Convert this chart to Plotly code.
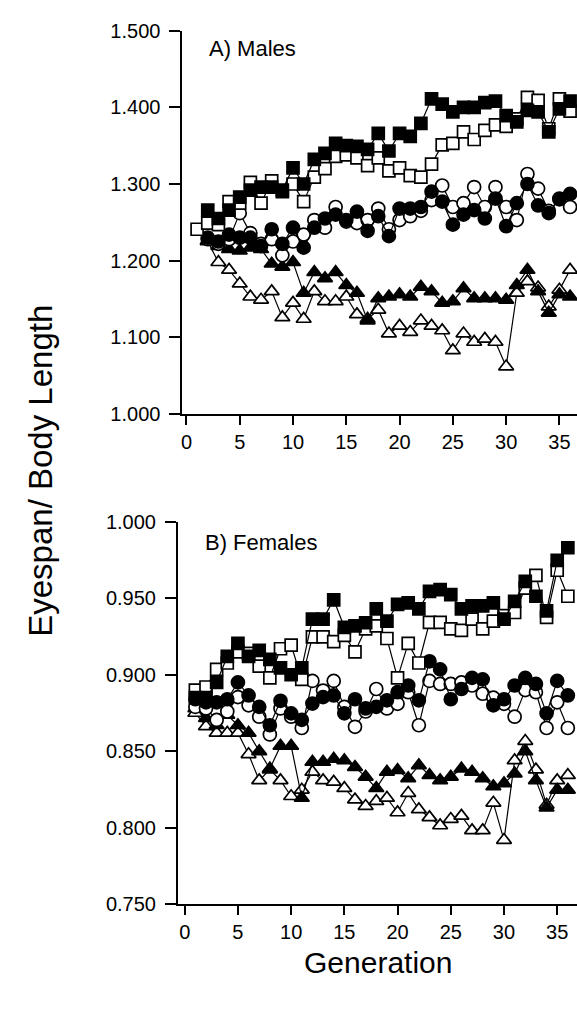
import plotly.graph_objects as go

# ---------------- data ----------------
gens_1_36 = list(range(1, 37))
gens_2_36 = list(range(2, 37))

# A) Males
top_fs = [1.266,1.255,1.266,1.283,1.292,1.296,1.296,1.292,1.321,1.300,1.332,1.340,1.353,1.350,1.349,1.345,1.366,1.343,1.366,1.362,1.379,1.411,1.404,1.394,1.400,1.400,1.406,1.408,1.389,1.381,1.396,1.394,1.368,1.398,1.408]
top_os = [1.241,1.249,1.247,1.277,1.275,1.302,1.275,1.304,1.290,1.300,1.277,1.309,1.320,1.336,1.338,1.334,1.324,1.334,1.317,1.321,1.311,1.309,1.326,1.351,1.353,1.368,1.358,1.370,1.377,1.375,1.385,1.413,1.409,1.372,1.411,1.395]
top_fc = [1.230,1.225,1.234,1.230,1.230,1.219,1.241,1.222,1.243,1.217,1.243,1.255,1.260,1.253,1.264,1.239,1.258,1.232,1.268,1.268,1.270,1.290,1.277,1.247,1.260,1.266,1.255,1.281,1.245,1.275,1.300,1.272,1.262,1.281,1.287]
top_oc = [1.228,1.222,1.228,1.262,1.236,1.222,1.228,1.207,1.225,1.234,1.253,1.243,1.270,1.251,1.249,1.253,1.268,1.241,1.253,1.258,1.265,1.279,1.298,1.270,1.275,1.296,1.270,1.296,1.270,1.253,1.313,1.294,1.265,1.280,1.270]
top_ft = [1.226,1.219,1.215,1.213,1.217,1.215,1.196,1.192,1.198,1.158,1.185,1.177,1.185,1.168,1.158,1.122,1.151,1.153,1.156,1.153,1.166,1.160,1.145,1.147,1.164,1.151,1.151,1.151,1.149,1.168,1.188,1.160,1.132,1.156,1.153]
top_ot = [1.225,1.198,1.188,1.170,1.153,1.149,1.160,1.126,1.145,1.124,1.160,1.147,1.147,1.153,1.130,1.124,1.136,1.105,1.115,1.107,1.122,1.115,1.109,1.083,1.105,1.094,1.098,1.094,1.062,1.158,1.173,1.165,1.140,1.162,1.188]

# B) Females
bot_fs = [0.885,0.885,0.895,0.912,0.9205,0.912,0.916,0.910,0.9045,0.900,0.9045,0.9364,0.9364,0.949,0.931,0.932,0.934,0.943,0.935,0.946,0.947,0.943,0.9545,0.9556,0.9524,0.943,0.945,0.945,0.947,0.9364,0.948,0.961,0.9513,0.9418,0.9747,0.983]
bot_os = [0.890,0.892,0.9035,0.9077,0.915,0.914,0.9056,0.898,0.917,0.9194,0.897,0.9247,0.9247,0.9216,0.9258,0.915,0.930,0.932,0.9237,0.898,0.9205,0.9077,0.9343,0.9343,0.930,0.929,0.9364,0.930,0.935,0.9386,0.9407,0.9566,0.965,0.9375,0.9683,0.9513]
bot_fc = [0.884,0.882,0.882,0.884,0.895,0.8865,0.879,0.867,0.883,0.8748,0.8705,0.8812,0.8854,0.8865,0.8748,0.884,0.878,0.879,0.8833,0.8886,0.893,0.8833,0.9088,0.9035,0.884,0.8907,0.898,0.897,0.880,0.884,0.893,0.898,0.894,0.8748,0.896,0.8865]
bot_oc = [0.879,0.878,0.8705,0.876,0.8854,0.880,0.8726,0.861,0.878,0.8726,0.8652,0.896,0.8897,0.896,0.879,0.866,0.876,0.8907,0.878,0.881,0.8886,0.867,0.896,0.894,0.894,0.895,0.893,0.8876,0.885,0.881,0.8726,0.890,0.8886,0.8652,0.882,0.8652]
bot_ft = [0.878,0.8716,0.867,0.8737,0.867,0.862,0.850,0.8386,0.8535,0.8535,0.8195,0.843,0.843,0.845,0.844,0.8397,0.8333,0.8259,0.8365,0.8376,0.8323,0.8408,0.8344,0.831,0.8333,0.8386,0.8365,0.8323,0.827,0.829,0.8354,0.850,0.831,0.8131,0.8248,0.8248]
bot_ot = [0.875,0.8663,0.862,0.862,0.862,0.848,0.831,0.838,0.831,0.8206,0.8248,0.8365,0.831,0.830,0.8259,0.8184,0.8142,0.8174,0.8195,0.810,0.8227,0.812,0.8068,0.8015,0.8057,0.8078,0.7983,0.7983,0.8163,0.792,0.844,0.8567,0.838,0.815,0.831,0.8344]

x_ticks = [0, 5, 10, 15, 20, 25, 30, 35]
top_yticks = [1.0, 1.1, 1.2, 1.3, 1.4, 1.5]
bot_yticks = [0.75, 0.80, 0.85, 0.90, 0.95, 1.0]

# ---------------- figure ----------------
FONT = "Liberation Sans, Arial, Helvetica, sans-serif"
W, H = 577, 1020

styles = {
    "fs": dict(symbol="square", color="black", size=12),
    "os": dict(symbol="square", color="white", size=12),
    "fc": dict(symbol="circle", color="black", size=13),
    "oc": dict(symbol="circle", color="white", size=13),
    "ft": dict(symbol="triangle-up", color="black", size=13),
    "ot": dict(symbol="triangle-up", color="white", size=13),
}

fig = go.Figure()

def add(xs, ys, key, xa, ya):
    st = styles[key]
    fig.add_trace(go.Scatter(
        x=xs, y=ys, mode="lines+markers", xaxis=xa, yaxis=ya,
        line=dict(color="black", width=1.2),
        marker=dict(symbol=st["symbol"], size=st["size"], color=st["color"],
                    line=dict(color="black", width=1.7)),
        showlegend=False, cliponaxis=True,
    ))

# top panel
add(gens_2_36, top_ot, "ot", "x", "y")
add(gens_2_36, top_ft, "ft", "x", "y")
add(gens_2_36, top_oc, "oc", "x", "y")
add(gens_2_36, top_fc, "fc", "x", "y")
add(gens_1_36, top_os, "os", "x", "y")
add(gens_2_36, top_fs, "fs", "x", "y")
# bottom panel
add(gens_1_36, bot_ot, "ot", "x2", "y2")
add(gens_1_36, bot_ft, "ft", "x2", "y2")
add(gens_1_36, bot_oc, "oc", "x2", "y2")
add(gens_1_36, bot_fc, "fc", "x2", "y2")
add(gens_1_36, bot_os, "os", "x2", "y2")
add(gens_1_36, bot_fs, "fs", "x2", "y2")

def px_x(p):
    return p / W

def px_y(p):
    return 1 - p / H

axis_common = dict(
    showgrid=False, zeroline=False, showline=True, linecolor="black", linewidth=1.5,
    ticks="outside", tickcolor="black", tickwidth=1.5,
    tickfont=dict(family=FONT, size=20, color="black"),
)

fig.update_layout(
    width=W, height=H,
    margin=dict(l=0, r=0, t=0, b=0),
    paper_bgcolor="white", plot_bgcolor="white",
    font=dict(family=FONT, color="black"),
    xaxis=dict(domain=[px_x(181.5), 1.0], range=[-0.4, 36.65], anchor="y",
               tickvals=x_ticks, ticklen=9, **axis_common),
    yaxis=dict(domain=[px_y(412), px_y(20)], range=[1.0, 1.5], anchor="x",
               tickvals=top_yticks, tickformat=".3f", ticklen=11,
               ticklabelstandoff=5, **axis_common),
    xaxis2=dict(domain=[px_x(177), 1.0], range=[-0.66, 36.86], anchor="y2",
                tickvals=x_ticks, ticklen=9, **axis_common),
    yaxis2=dict(domain=[px_y(913), px_y(522)], range=[0.75, 1.0], anchor="x2",
                tickvals=bot_yticks, tickformat=".3f", ticklen=11,
                ticklabelstandoff=5, **axis_common),
    annotations=[
        dict(text="A) Males", x=px_x(206), y=px_y(38), xref="paper", yref="paper",
             xanchor="left", yanchor="middle", showarrow=False,
             font=dict(family=FONT, size=22, color="black")),
        dict(text="B) Females", x=px_x(202), y=px_y(543), xref="paper", yref="paper",
             xanchor="left", yanchor="middle", showarrow=False,
             font=dict(family=FONT, size=22, color="black")),
        dict(text="Eyespan/ Body Length", x=px_x(40), y=px_y(470), xref="paper", yref="paper",
             xanchor="center", yanchor="middle", textangle=-90, showarrow=False,
             font=dict(family=FONT, size=33, color="black")),
        dict(text="Generation", x=px_x(378), y=px_y(972), xref="paper", yref="paper",
             xanchor="center", yanchor="middle", showarrow=False,
             font=dict(family=FONT, size=30, color="black")),
    ],
)

fig.write_html("out.html")
